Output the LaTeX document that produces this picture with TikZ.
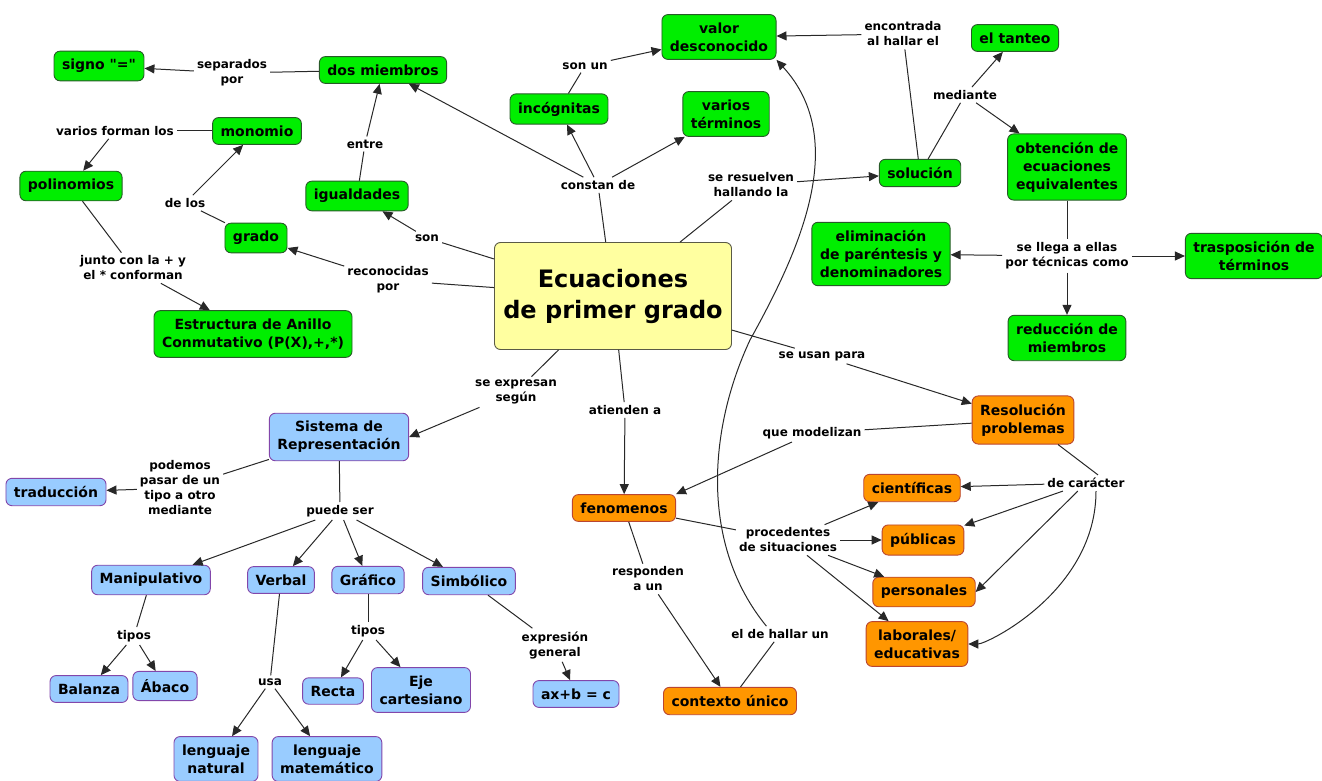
\documentclass[tikz,border=0pt]{standalone}
\usepackage{fontspec}
\setmainfont{DejaVu Sans}[Ligatures=TeXOff]
\usetikzlibrary{arrows.meta}

\definecolor{verdeF}{RGB}{0,238,0}
\definecolor{verdeB}{RGB}{40,90,40}
\definecolor{azulF}{RGB}{153,204,255}
\definecolor{azulB}{RGB}{130,70,170}
\definecolor{naranjaF}{RGB}{255,150,0}
\definecolor{naranjaB}{RGB}{185,70,50}
\definecolor{amarilloF}{RGB}{255,255,160}
\definecolor{amarilloB}{RGB}{90,90,70}
\definecolor{linea}{RGB}{40,40,40}

\begin{document}
\begin{tikzpicture}[x=1pt,y=-1pt,>={Triangle[length=10pt,width=9pt]},
    concepto/.style={draw,rounded corners=6pt,line width=0.9pt,align=center,
      inner xsep=8pt,inner ysep=8pt,font=\bfseries\fontsize{14}{18}\selectfont},
    verde/.style={concepto,fill=verdeF,draw=verdeB},
    azul/.style={concepto,fill=azulF,draw=azulB},
    naranja/.style={concepto,fill=naranjaF,draw=naranjaB},
    central/.style={concepto,fill=amarilloF,draw=amarilloB,
      font=\bfseries\fontsize{24}{31}\selectfont},
    enlace/.style={align=center,inner sep=3pt,font=\bfseries\fontsize{12}{15}\selectfont},
    every edge/.style={draw=linea,line width=1pt}]
  \useasboundingbox (0,0) rectangle (1322,781);

  % conceptos
  \node[central,minimum width=237pt,minimum height=107pt] (ec) at (613,296) {Ecuaciones\\de primer grado};
  \node[verde] (signo) at (99,66) {signo "="};
  \node[verde] (dos_m) at (383,70) {dos miembros};
  \node[verde] (mono) at (257,131) {monomio};
  \node[verde] (poli) at (71,186) {polinomios};
  \node[verde] (igual) at (357,196) {igualdades};
  \node[verde] (grado) at (256,238) {grado};
  \node[verde] (anillo) at (253,334) {Estructura de Anillo\\Conmutativo (P(X),+,*)};
  \node[verde] (valor) at (719,37) {valor\\desconocido};
  \node[verde] (incog) at (559,109) {incógnitas};
  \node[verde] (varios) at (726,114) {varios\\términos};
  \node[verde] (sol) at (920,173) {solución};
  \node[verde] (tanteo) at (1015,38) {el tanteo};
  \node[verde] (obt) at (1067,167) {obtención de\\ecuaciones\\equivalentes};
  \node[verde] (elim) at (881,254) {eliminación\\de paréntesis y\\denominadores};
  \node[verde] (trasp) at (1254,256) {trasposición de\\términos};
  \node[verde] (reduc) at (1067,338) {reducción de\\miembros};

  \node[azul] (sist) at (339,437) {Sistema de\\Representación};
  \node[azul] (trad) at (56,492) {traducción};
  \node[azul] (manip) at (151,580) {Manipulativo};
  \node[azul] (verbal) at (281,580) {Verbal};
  \node[azul] (graf) at (368,580) {Gráfico};
  \node[azul] (simb) at (469,581) {Simbólico};
  \node[azul] (bal) at (89,689) {Balanza};
  \node[azul] (abaco) at (165,686) {Ábaco};
  \node[azul] (recta) at (333,691) {Recta};
  \node[azul] (eje) at (421,690) {Eje\\cartesiano};
  \node[azul] (axb) at (576,694) {ax+b = c};
  \node[azul] (lnat) at (216,759) {lenguaje\\natural};
  \node[azul] (lmat) at (327,759) {lenguaje\\matemático};

  \node[naranja] (resol) at (1023,420) {Resolución\\problemas};
  \node[naranja] (fen) at (624,508) {fenomenos};
  \node[naranja] (cient) at (912,488) {científicas};
  \node[naranja] (publ) at (923,540) {públicas};
  \node[naranja] (pers) at (924,592) {personales};
  \node[naranja] (lab) at (917,644) {laborales/\\educativas};
  \node[naranja] (ctx) at (730,701) {contexto único};

  % enlaces
  \node[enlace] (l_sep) at (232,73) {separados\\por};
  \node[enlace] (l_var) at (115,131) {varios forman los};
  \node[enlace] (l_delos) at (185,203) {de los};
  \node[enlace] (l_entre) at (365,144) {entre};
  \node[enlace] (l_junto) at (133,268) {junto con la + y\\el * conforman};
  \node[enlace] (l_son) at (427,238) {son};
  \node[enlace] (l_rec) at (388,280) {reconocidas\\por};
  \node[enlace] (l_const) at (598,185) {constan de};
  \node[enlace] (l_sonun) at (585,66) {son un};
  \node[enlace] (l_resu) at (751,185) {se resuelven\\hallando la};
  \node[enlace] (l_enc) at (903,34) {encontrada\\al hallar el};
  \node[enlace] (l_med) at (965,95) {mediante};
  \node[enlace] (l_llega) at (1067,256) {se llega a ellas\\por técnicas como};
  \node[enlace] (l_usan) at (822,356) {se usan para};
  \node[enlace] (l_expr) at (516,392) {se expresan\\según};
  \node[enlace] (l_atien) at (625,410) {atienden a};
  \node[enlace] (l_model) at (812,433) {que modelizan};
  \node[enlace] (l_car) at (1086,483) {de carácter};
  \node[enlace] (l_proc) at (788,540) {procedentes\\de situaciones};
  \node[enlace] (l_resp) at (648,579) {responden\\a un};
  \node[enlace] (l_hallar) at (780,634) {el de hallar un};
  \node[enlace] (l_pod) at (180,488) {podemos\\pasar de un\\tipo a otro\\mediante};
  \node[enlace] (l_puede) at (340,511) {puede ser};
  \node[enlace] (l_tip1) at (134,636) {tipos};
  \node[enlace] (l_usa) at (270,682) {usa};
  \node[enlace] (l_tip2) at (368,631) {tipos};
  \node[enlace] (l_expg) at (555,645) {expresión\\general};

  % conexiones
  \path
  (ec) edge (l_const) edge (l_son) edge (l_rec) edge (l_resu)
       edge (l_usan) edge (l_atien) edge (l_expr)
  (l_const) edge[->] (dos_m) edge[->] (incog) edge[->] (varios)
  (l_son) edge[->] (igual)
  (l_rec) edge[->] (grado)
  (igual) edge (l_entre)
  (l_entre) edge[->] (dos_m)
  (dos_m) edge (l_sep)
  (l_sep) edge[->] (signo)
  (grado) edge (l_delos)
  (l_delos) edge[->] (mono)
  (mono) edge (l_var)
  (l_var) edge[->] (poli)
  (poli) edge (l_junto)
  (l_junto) edge[->] (anillo)
  (incog) edge (l_sonun)
  (l_sonun) edge[->] (valor)
  (l_resu) edge[->] (sol)
  (sol) edge (l_enc) edge (l_med)
  (l_enc) edge[->] (valor)
  (l_med) edge[->] (tanteo) edge[->] (obt)
  (obt) edge (l_llega)
  (l_llega) edge[->] (elim) edge[->] (trasp) edge[->] (reduc)
  (l_usan) edge[->] (resol)
  (resol) edge (l_model)
  (l_model) edge[->] (fen.north east)
  (resol.-35) edge ([xshift=12pt]l_car.north)
  (l_car) edge[->] (cient) edge[->] (publ) edge[->] (pers.east)
  (l_atien) edge[->] (fen)
  (fen) edge (l_proc) edge (l_resp)
  (l_proc) edge[->] (cient) edge[->] (publ) edge[->] (pers) edge[->] (lab)
  (l_resp) edge[->] (ctx)
  (ctx) edge (l_hallar)
  (l_expr) edge[->] (sist.east)
  (sist) edge (l_pod) edge (l_puede)
  (l_pod) edge[->] (trad)
  (l_puede) edge[->] (manip) edge[->] (verbal) edge[->] (graf) edge[->] (simb)
  (manip) edge (l_tip1)
  (l_tip1) edge[->] (bal) edge[->] (abaco)
  (verbal) edge (l_usa)
  (l_usa) edge[->] (lnat) edge[->] (lmat)
  (graf) edge (l_tip2)
  (l_tip2) edge[->] (recta) edge[->] (eje)
  (simb) edge (l_expg)
  (l_expg) edge[->] (axb);

  \draw[->,draw=linea,line width=1pt] ([xshift=10pt]l_car.south) .. controls +(0,100) and +(70,0) .. (lab);
  \draw[->,draw=linea,line width=1pt] (l_hallar.150) .. controls (700,545) and (708,430) .. (750,340)
    .. controls (800,250) and (850,140) .. (valor.south east);
\end{tikzpicture}
\end{document}
